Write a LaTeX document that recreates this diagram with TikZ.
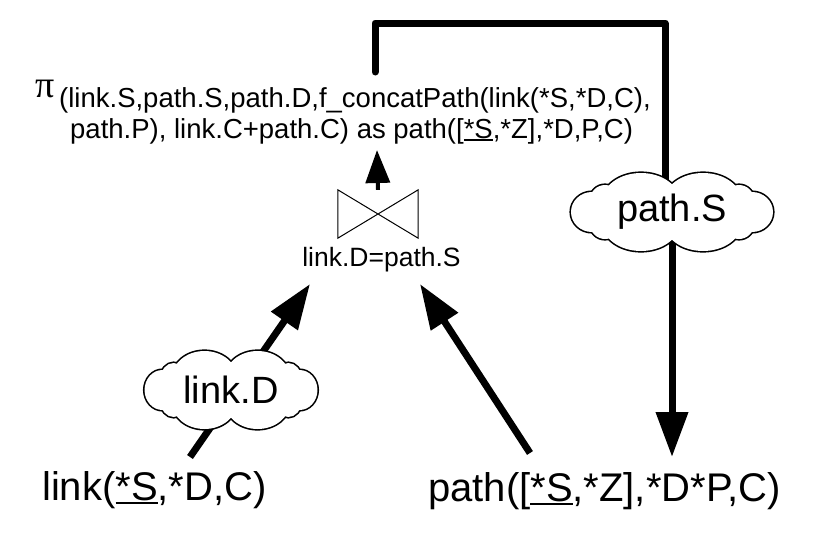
\documentclass[tikz,border=0pt]{standalone}
\usepackage{fontspec}
\setmainfont{Liberation Sans}
\newfontfamily\serifpi{Liberation Serif}
\usetikzlibrary{arrows.meta}
\newcommand\myul[1]{\setbox0=\hbox{#1}\rlap{\rule[-0.1em]{\wd0}{0.06em}}\box0}
% cloud outline made of puffs (centred at origin, 201 x 77)
\newcommand\puffs{%
  (-80,0) ellipse [x radius=21, y radius=20]
  (80,0) ellipse [x radius=21, y radius=20]
  (-67,12) circle [radius=15] (67,12) circle [radius=15]
  (-67,-12) circle [radius=15] (67,-12) circle [radius=15]
  (-31,12) ellipse [x radius=38, y radius=27] (31,12) ellipse [x radius=38, y radius=27]
  (-31,-12) ellipse [x radius=38, y radius=27] (31,-12) ellipse [x radius=38, y radius=27]}
\newcommand\drawcloud{%
  \draw[line width=3.2pt] \puffs;
  \fill[white] \puffs (0,0) ellipse [x radius=80, y radius=22];}
\begin{document}
\begin{tikzpicture}[x=1pt,y=-1pt,
  big/.style={font=\fontsize{40}{48}\selectfont, inner sep=0pt},
  mid/.style={font=\fontsize{26.5}{30}\selectfont, inner sep=0pt},
  form/.style={font=\fontsize{27.5}{30}\selectfont, inner sep=0pt},
  cloudtext/.style={inner sep=0pt, font=\fontsize{38}{44}\selectfont},
  heavy/.style={line width=7pt, -{Triangle[length=45pt,width=31pt]}},
  bracket/.style={line width=7pt, line cap=round, line join=round},
  ]
\useasboundingbox (0,0) rectangle (817,533);
% texts
\node[big, anchor=base west] (lt) at (42,500) {link(\myul{*S},*D,C)};
\node[big, anchor=base west] (pt) at (428,501) {path([\myul{*S},*Z],*D*P,C)};
\node[anchor=base west, inner sep=0pt, font=\serifpi\fontsize{38}{40}\selectfont] (pi) at (35,97) {π};
\node[form, anchor=base west] (f1) at (59,107) {(link.S,path.S,path.D,f\_concatPath(link(*S,*D,C),};
\node[form, anchor=base west] (f2) at (70,138) {path.P), link.C+path.C) as path([\myul{*S},*Z],*D,P,C)};
% join
\node[minimum width=80pt, minimum height=48pt, inner sep=0pt] (join) at (378,214) {};
\draw[line width=1pt] (join.north west) -- (join.south east) -- (join.north east) -- (join.south west) -- cycle;
\node[mid, anchor=base] (jlabel) at (381.5,266) {link.D=path.S};
% coordinates
\coordinate (ftip) at (377,150);
\coordinate (jl) at (310,284);
\coordinate (jr) at (420,284);
\coordinate (ls) at (190,457);
\coordinate (ps) at (530,453);
\coordinate (bstart) at (375,72);
\coordinate (c1) at (375,23);
\coordinate (c2) at (665,23);
\coordinate (ptip) at (672,457);
\coordinate (pSc) at (672,212);
\coordinate (ldc) at (231,390);
% connectors
\draw[line width=4pt, -{Triangle[length=33pt,width=24pt]}] (join.north) -- (ftip);
\draw[heavy] (ls) -- (jl);
\draw[heavy] (ps) -- (jr);
\draw[bracket] (bstart) -- (c1) -- (c2) -- (c2 |- pSc);
\draw[heavy] (pSc) -- (ptip);
% clouds
\begin{scope}[shift={(pSc)}]\drawcloud\end{scope}
\begin{scope}[shift={(ldc)}, xscale=0.856]\drawcloud\end{scope}
\node[cloudtext] (pS) at (pSc) {path.S};
\node[cloudtext] (ld) at (ldc) {link.D};
\end{tikzpicture}
\end{document}
